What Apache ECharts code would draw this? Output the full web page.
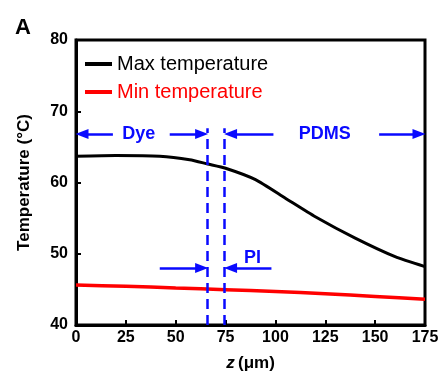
<!DOCTYPE html>
<html>
<head>
<meta charset="utf-8">
<script src="https://cdn.jsdelivr.net/npm/echarts@6/dist/echarts.min.js"></script>
<style>
  html, body { margin: 0; padding: 0; background: #fff; }
  #main { width: 445px; height: 380px; }
</style>
</head>
<body>
<div id="main"></div>
<script>
// temperature profiles along z (um)
var zMax = [0, 20, 42, 57, 66, 75, 90, 105, 120, 140, 160, 175];
var maxTemp = [63.7, 63.8, 63.7, 63.2, 62.6, 62.0, 60.4, 57.8, 55.2, 52.2, 49.6, 48.2];
var zMin = [0, 25, 50, 75, 100, 125, 150, 175];
var minTemp = [45.6, 45.45, 45.2, 44.95, 44.7, 44.4, 44.0, 43.6];

// layer boundaries (dashed lines) and annotation arrows
var layerBounds = [66, 74.5];
var dashTop = 67.6;
var rowTop = 66.8;     // Dye / PDMS arrows
var rowPI = 48.0;      // PI arrows
// [from, to] : arrow tip at "to" (head is centred on the end point, so pulled in a bit)
var arrows = [
  [18.5, 3, rowTop], [47, 63, rowTop],
  [99, 77.5, rowTop], [152, 172, rowTop],
  [42, 63, rowPI], [98, 77.5, rowPI]
];
var layerLabels = [['Dye', 31.5, rowTop], ['PDMS', 124.75, rowTop], ['PI', 88.5, 49.4]];

var blue = '#0a0aff';
var font = 'Liberation Sans, Arial, sans-serif';

function zip(a, b) {
  var out = [];
  for (var i = 0; i < a.length; i++) out.push([a[i], b[i]]);
  return out;
}

var markLines = [];
layerBounds.forEach(function (z) {
  markLines.push([
    { coord: [z, 40], symbol: 'none', lineStyle: { type: [10, 6], width: 2.5, color: blue } },
    { coord: [z, dashTop], symbol: 'none' }
  ]);
});
arrows.forEach(function (a) {
  markLines.push([
    { coord: [a[0], a[2]], symbol: 'none', lineStyle: { type: 'solid', width: 2.5, color: blue } },
    { coord: [a[1], a[2]], symbol: 'triangle' }
  ]);
});

var markPoints = layerLabels.map(function (l) {
  return {
    coord: [l[1], l[2]],
    symbol: 'circle', symbolSize: 0,
    label: { show: true, position: 'inside', formatter: l[0], color: blue, fontWeight: 'bold', fontSize: 18, fontFamily: font }
  };
});

var chart = echarts.init(document.getElementById('main'), null, { renderer: 'canvas' });

var option = {
  animation: false,
  backgroundColor: '#fff',
  title: {
    text: 'A', left: 10, top: 12,
    textStyle: { fontSize: 22, fontWeight: 'bold', color: '#000', fontFamily: font }
  },
  grid: {
    left: 76, right: 20, top: 40, bottom: 55,
    show: true, borderColor: '#000', borderWidth: 3
  },
  legend: {
    orient: 'vertical', left: 80, top: 49,
    icon: 'rect', itemWidth: 27, itemHeight: 4, itemGap: 8,
    textStyle: { fontSize: 20, fontFamily: font },
    data: [
      { name: 'Max temperature', textStyle: { color: '#000' } },
      { name: 'Min temperature', textStyle: { color: '#ff0000' } }
    ]
  },
  xAxis: {
    type: 'value', min: 0, max: 175, interval: 25,
    name: '{i|z} {n|(μm)}', nameLocation: 'middle', nameGap: 30,
    nameTextStyle: {
      rich: {
        i: { fontSize: 17, fontWeight: 'bold', fontStyle: 'italic', fontFamily: font, color: '#000' },
        n: { fontSize: 17, fontWeight: 'bold', fontFamily: font, color: '#000' }
      }
    },
    axisLine: { lineStyle: { color: '#000', width: 3 } },
    axisTick: { inside: true, length: 5, lineStyle: { color: '#000', width: 2 } },
    axisLabel: { margin: 5, fontSize: 16, fontWeight: 'bold', color: '#000', fontFamily: font },
    splitLine: { show: false }
  },
  yAxis: {
    type: 'value', min: 40, max: 80, interval: 10,
    name: 'Temperature (°C)', nameLocation: 'middle', nameGap: 43,
    nameTextStyle: { fontSize: 17, fontWeight: 'bold', color: '#000', fontFamily: font },
    axisLine: { lineStyle: { color: '#000', width: 3 } },
    axisTick: { inside: true, length: 5, lineStyle: { color: '#000', width: 2 } },
    axisLabel: { margin: 8, fontSize: 16, fontWeight: 'bold', color: '#000', fontFamily: font },
    splitLine: { show: false }
  },
  series: [
    {
      name: 'Max temperature', type: 'line', smooth: 0.2,
      data: zip(zMax, maxTemp), showSymbol: false,
      itemStyle: { color: '#000' },
      lineStyle: { color: '#000', width: 3 },
      markLine: { silent: true, symbolSize: [10, 13], label: { show: false }, data: markLines },
      markPoint: { silent: true, data: markPoints }
    },
    {
      name: 'Min temperature', type: 'line', smooth: 0.2,
      data: zip(zMin, minTemp), showSymbol: false,
      itemStyle: { color: '#ff0000' },
      lineStyle: { color: '#ff0000', width: 3.5 }
    }
  ]
};

chart.setOption(option);
</script>
</body>
</html>
